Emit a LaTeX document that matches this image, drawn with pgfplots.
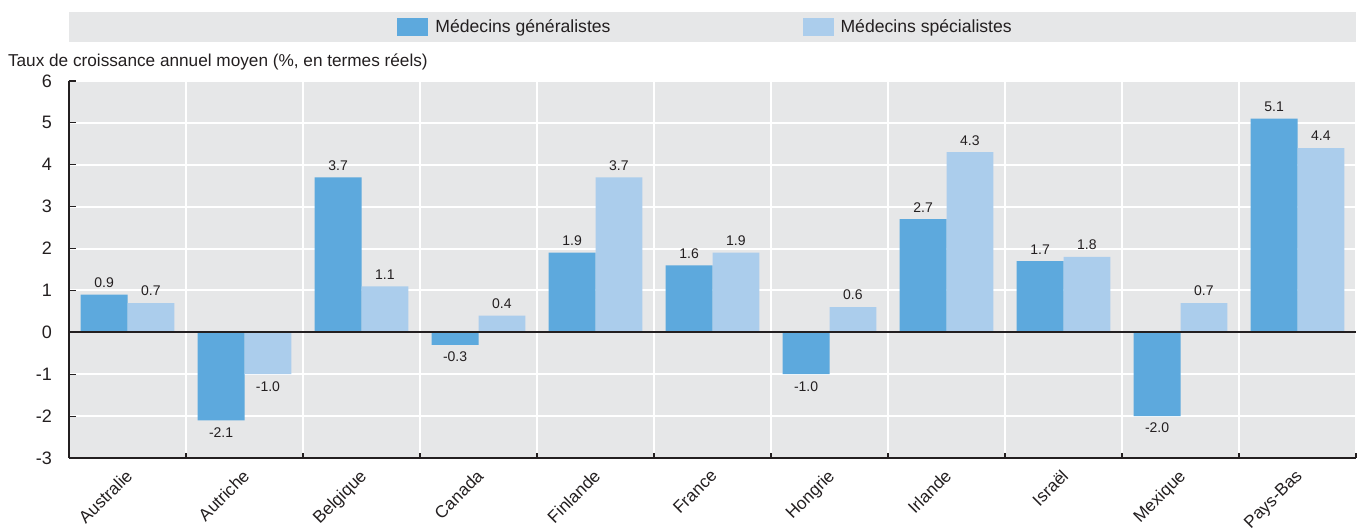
\documentclass[border=0pt]{standalone}
\usepackage{fontspec}
\setmainfont{Liberation Sans}
\usepackage{pgfplots}
\pgfplotsset{compat=1.18}
\definecolor{bgGray}{HTML}{E6E7E8}
\definecolor{darkB}{HTML}{5DA9DD}
\definecolor{lightB}{HTML}{ABCDEC}
\definecolor{txt}{HTML}{231F20}
\begin{document}
\begin{tikzpicture}[font=\fontsize{8.6}{10}\selectfont, text=txt]
\useasboundingbox (-34.5pt,-35.5pt) rectangle (645pt,229pt);
\fill[bgGray] (0pt,208pt) rectangle (643.5pt,223pt);
\begin{axis}[
  at={(0,0)}, anchor=south west,
  scale only axis, width=643.5pt, height=188.5pt,
  ybar=0pt, bar width=0.4,
  xmin=-0.5, xmax=10.5, ymin=-3, ymax=6,
  ytick={-3,-2,...,6},
  xtick={0,...,10},
  xticklabels={Australie,Autriche,Belgique,Canada,Finlande,France,Hongrie,Irlande,Israël,Mexique,Pays-Bas},
  minor xtick={-0.5,0.5,...,10.5},
  major x tick style={draw=none},
  minor tick length=2.5pt,
  major tick length=3.5pt,
  xminorgrids=true, ymajorgrids=true,
  grid style={white, line width=1pt},
  minor grid style={white, line width=1pt},
  axis background/.style={fill=bgGray},
  axis lines*=left,
  axis line style={txt, line width=0.9pt},
  tick style={txt, line width=0.6pt},
  tick align=inside,
  /pgf/number format/assume math mode=true,
  yticklabel style={font=\fontsize{9}{10}\selectfont, xshift=-5pt},
  xticklabel style={xshift=-1.5pt, yshift=-0.3pt, rotate=45, anchor=north east, font=\fontsize{8.6}{10}\selectfont},
  every axis y label/.style={at={(rel axis cs:0,1)}, anchor=west, xshift=-34pt, yshift=9.5pt, font=\fontsize{8.6}{10}\selectfont},
  ylabel={Taux de croissance annuel moyen (\%, en termes réels)},
  nodes near coords,
  nodes near coords style={font=\fontsize{7}{8}\selectfont, /pgf/number format/.cd, fixed, fixed zerofill, precision=1, assume math mode=true},
  legend columns=2,
  legend style={at={(rel axis cs:0.2549,1.143)}, anchor=west, draw=none, fill=none, inner sep=0pt,
    font=\fontsize{8.8}{10}\selectfont,
    /tikz/every odd column/.append style={column sep=1.5pt},
    /tikz/every even column/.append style={column sep=94pt}},
  legend image code/.code={\fill[#1] (0pt,-4.5pt) rectangle (15.5pt,4.5pt);},
  after end axis/.code={\draw[txt, line width=0.9pt] (axis cs:-0.5,0) -- (axis cs:10.5,0);},
]
\addplot[fill=darkB, draw=none] coordinates {(0,0.9) (1,-2.1) (2,3.7) (3,-0.3) (4,1.9) (5,1.6) (6,-1.0) (7,2.7) (8,1.7) (9,-2.0) (10,5.1)};
\addlegendentry{Médecins généralistes}
\addplot[fill=lightB, draw=none] coordinates {(0,0.7) (1,-1.0) (2,1.1) (3,0.4) (4,3.7) (5,1.9) (6,0.6) (7,4.3) (8,1.8) (9,0.7) (10,4.4)};
\addlegendentry{Médecins spécialistes}
\end{axis}
\end{tikzpicture}
\end{document}
